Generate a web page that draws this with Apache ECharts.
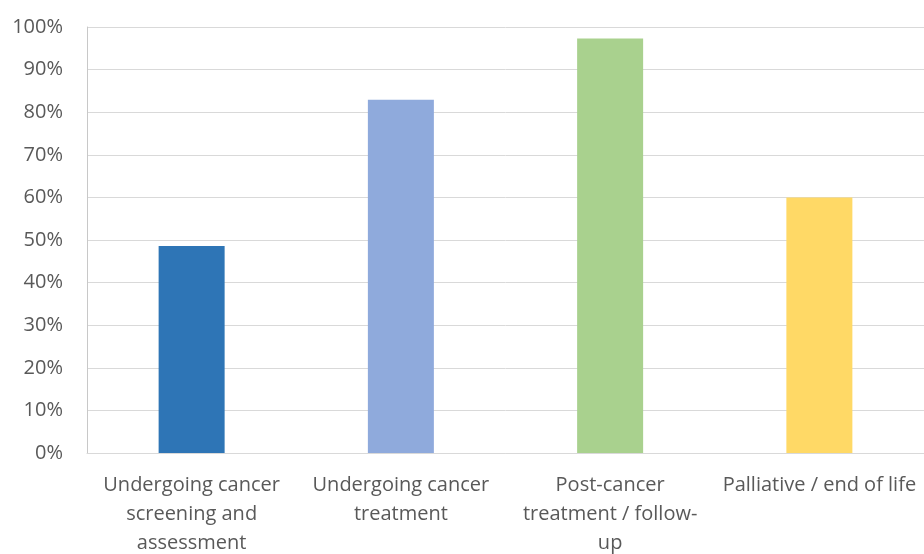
<!DOCTYPE html>
<html>
<head>
<meta charset="utf-8">
<script src="https://cdn.jsdelivr.net/npm/echarts@6/dist/echarts.min.js"></script>
<style>
  html, body { margin: 0; padding: 0; background: #ffffff; }
  #chart { width: 924px; height: 554px; }
</style>
</head>
<body>
<div id="chart"></div>
<script>
// Care stage categories and their tick labels (wrapped as shown under the axis)
const categories = [
  'Undergoing cancer screening and assessment',
  'Undergoing cancer treatment',
  'Post-cancer treatment / follow-up',
  'Palliative / end of life'
];
const tickLabels = [
  'Undergoing cancer\nscreening and\nassessment',
  'Undergoing cancer\ntreatment',
  'Post-cancer\ntreatment / follow-\nup',
  'Palliative / end of life'
];
// Share of respondents (%)
const values = [48.6, 82.9, 97.3, 60.0];
const barColors = ['#2E75B6', '#8FAADC', '#A9D18E', '#FFD966'];
const yTicks = { min: 0, max: 100, interval: 10 };

const chart = echarts.init(document.getElementById('chart'));
chart.setOption({
  animation: false,
  textStyle: { fontFamily: '"Open Sans", sans-serif' },
  grid: { left: 87, right: 0, top: 27, bottom: 101, containLabel: false, outerBoundsMode: 'none' },
  xAxis: {
    type: 'category',
    data: categories,
    axisLine: { show: true, lineStyle: { color: '#d9d9d9', width: 1 } },
    axisTick: { show: false },
    axisLabel: {
      interval: 0,
      margin: 18,
      color: '#595959',
      fontSize: 20,
      lineHeight: 29,
      fontFamily: '"Open Sans", sans-serif',
      formatter: (v, i) => tickLabels[i]
    }
  },
  yAxis: {
    type: 'value',
    min: yTicks.min,
    max: yTicks.max,
    interval: yTicks.interval,
    axisLine: { show: true, lineStyle: { color: '#c8c8c8', width: 1 } },
    axisTick: { show: false },
    splitLine: { show: true, lineStyle: { color: '#d9d9d9', width: 1 } },
    axisLabel: {
      color: '#595959',
      fontSize: 20,
      margin: 24,
      fontFamily: '"Open Sans", sans-serif',
      formatter: '{value}%'
    }
  },
  series: [{
    type: 'bar',
    barWidth: 66,
    data: values.map((v, i) => ({ value: v, itemStyle: { color: barColors[i] } }))
  }]
});
</script>
</body>
</html>
